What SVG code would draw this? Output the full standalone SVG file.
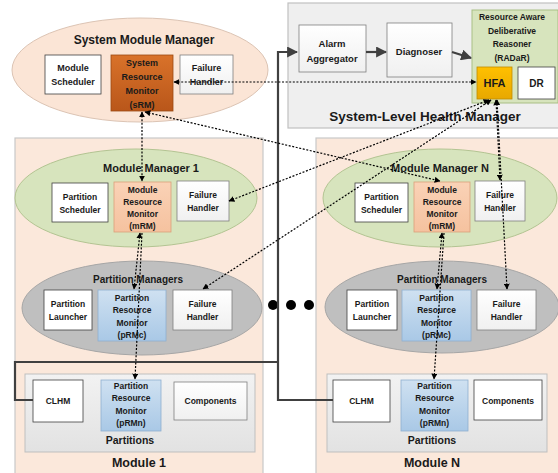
<svg xmlns="http://www.w3.org/2000/svg" width="558" height="473" viewBox="0 0 558 473">
<defs>
<linearGradient id="gW" x1="0" y1="0" x2="0" y2="1"><stop offset="0" stop-color="#ffffff"/><stop offset="1" stop-color="#f0f0f0"/></linearGradient>
<linearGradient id="gS" x1="0" y1="0" x2="0" y2="1"><stop offset="0" stop-color="#d9722a"/><stop offset="1" stop-color="#b9561a"/></linearGradient>
<linearGradient id="gM" x1="0" y1="0" x2="0" y2="1"><stop offset="0" stop-color="#fad2b6"/><stop offset="1" stop-color="#f5c29f"/></linearGradient>
<linearGradient id="gP" x1="0" y1="0" x2="0" y2="1"><stop offset="0" stop-color="#cfe1f1"/><stop offset="1" stop-color="#a9c8e6"/></linearGradient>
<linearGradient id="gH" x1="0" y1="0" x2="0" y2="1"><stop offset="0" stop-color="#ffc000"/><stop offset="1" stop-color="#e8a800"/></linearGradient>
<linearGradient id="gG" x1="0" y1="0" x2="0" y2="1"><stop offset="0" stop-color="#f2f2f2"/><stop offset="1" stop-color="#e2e2e2"/></linearGradient>
<marker id="ad" viewBox="0 0 10 10" refX="9" refY="5" markerWidth="6" markerHeight="6" markerUnits="userSpaceOnUse" orient="auto-start-reverse"><path d="M0,0 L10,5 L0,10 z" fill="#000"/></marker>
<marker id="as" viewBox="0 0 10 10" refX="9" refY="5" markerWidth="11" markerHeight="11" markerUnits="userSpaceOnUse" orient="auto"><path d="M0,0 L10,5 L0,10 z" fill="#404040"/></marker>
</defs>
<style>
text{font-family:"Liberation Sans",Arial,sans-serif;font-weight:bold;fill:#1a1a1a;text-anchor:middle}
.b{font-size:9px}
.s{font-size:8.5px}
.r{font-size:8.5px}
.t{font-size:12px}
.tm{font-size:11px}
.tp{font-size:10px}
.wb{fill:url(#gW);stroke:#7f7f7f;stroke-width:0.8}
.wb2{fill:#ffffff;stroke:#404040;stroke-width:0.8}
.mod{fill:#fbe8db;stroke:#c8c8c8;stroke-width:1.2}
.dot{fill:none;stroke:#000;stroke-width:1.2;stroke-dasharray:2 1.6;marker-start:url(#ad);marker-end:url(#ad)}
.thick{fill:none;stroke:#404040;stroke-width:2.2}
</style>

<g id="module1">
<rect class="mod" x="15" y="138" width="248" height="340"/>
<text x="139" y="467" class="t" style="font-size:12.5px">Module 1</text>
</g>
<g id="moduleN">
<rect class="mod" x="316" y="138" width="246" height="340"/>
<text x="432" y="467" class="t" style="font-size:12.5px">Module N</text>
</g>

<g id="slhm">
<rect x="288" y="3" width="272" height="125" fill="#efefef" stroke="#c0c0c0" stroke-width="1.2"/>
<text x="425" y="121" style="font-size:13.5px">System-Level Health Manager</text>
</g>
<g id="alarm">
<rect class="wb" x="299" y="25" width="67" height="47"/>
<text class="b" x="332" y="47" style="font-size:9.5px">Alarm</text>
<text class="b" x="332" y="62" style="font-size:9.5px">Aggregator</text>
</g>
<g id="diagnoser">
<rect class="wb" x="387" y="23" width="65" height="54"/>
<text class="b" x="419" y="55" style="font-size:9.5px">Diagnoser</text>
</g>
<g id="radar">
<rect x="472" y="10" width="86" height="93" fill="#d7e4bd" stroke="#a9bf85" stroke-width="1"/>
<text class="r" x="512" y="20">Resource Aware</text>
<text class="r" x="512" y="34">Deliberative</text>
<text class="r" x="512" y="47">Reasoner</text>
<text class="r" x="512" y="61">(RADaR)</text>
</g>
<g id="hfa">
<rect x="477" y="67" width="35" height="32" fill="url(#gH)" stroke="#c08c00" stroke-width="0.8"/>
<text x="494.5" y="87" style="font-size:11px">HFA</text>
</g>
<g id="dr">
<rect class="wb2" x="518" y="67" width="37" height="32"/>
<text x="536.5" y="87" style="font-size:10px">DR</text>
</g>

<g id="smm">
<ellipse cx="140" cy="70" rx="128" ry="52" fill="#fbe5d6" stroke="#dcc4b4" stroke-width="1"/>
<text x="144" y="44" class="t">System Module Manager</text>
</g>
<g id="modsched">
<rect class="wb2" x="45" y="55" width="56" height="39"/>
<text class="b" x="73" y="71">Module</text>
<text class="b" x="73" y="85">Scheduler</text>
</g>
<g id="srm">
<rect x="111" y="55" width="62" height="56" fill="url(#gS)" stroke="#9c4a12" stroke-width="0.8"/>
<text class="b" x="142" y="66">System</text>
<text class="b" x="142" y="80">Resource</text>
<text class="b" x="142" y="94">Monitor</text>
<text class="b" x="142" y="108">(sRM)</text>
</g>
<g id="sfh">
<rect class="wb" x="180" y="55" width="53" height="39"/>
<text class="b" x="206.5" y="71">Failure</text>
<text class="b" x="206.5" y="85">Handler</text>
</g>

<g id="mm1">
<ellipse cx="136" cy="198" rx="121" ry="49" fill="#d7e4bd" stroke="#b3c492" stroke-width="1"/>
<text x="151" y="172" class="tm">Module Manager 1</text>
</g>
<g id="psched1">
<rect class="wb2" x="52" y="183" width="56" height="39"/>
<text class="s" x="80" y="200">Partition</text>
<text class="s" x="80" y="213">Scheduler</text>
</g>
<g id="mrm1">
<rect x="114" y="182" width="57" height="50" fill="url(#gM)" stroke="#d9a07a" stroke-width="0.8"/>
<text class="s" x="142.5" y="193">Module</text>
<text class="s" x="142.5" y="205">Resource</text>
<text class="s" x="142.5" y="217">Monitor</text>
<text class="s" x="142.5" y="229">(mRM)</text>
</g>
<g id="mfh1">
<rect class="wb" x="177" y="181" width="52" height="40"/>
<text class="s" x="203" y="198">Failure</text>
<text class="s" x="203" y="211">Handler</text>
</g>

<g id="mmN">
<ellipse cx="440" cy="198" rx="117" ry="49" fill="#d7e4bd" stroke="#b3c492" stroke-width="1"/>
<text x="440" y="172" class="tm">Module Manager N</text>
</g>
<g id="pschedN">
<rect class="wb2" x="355" y="183" width="53" height="39"/>
<text class="s" x="381.5" y="200">Partition</text>
<text class="s" x="381.5" y="213">Scheduler</text>
</g>
<g id="mrmN">
<rect x="414" y="182" width="56" height="50" fill="url(#gM)" stroke="#d9a07a" stroke-width="0.8"/>
<text class="s" x="442" y="193">Module</text>
<text class="s" x="442" y="205">Resource</text>
<text class="s" x="442" y="217">Monitor</text>
<text class="s" x="442" y="229">(mRM)</text>
</g>
<g id="mfhN">
<rect class="wb" x="475" y="181" width="50" height="40"/>
<text class="s" x="500" y="198">Failure</text>
<text class="s" x="500" y="211">Handler</text>
</g>

<g id="pm1">
<ellipse cx="142" cy="308" rx="120" ry="47" fill="#bfbfbf" stroke="#a6a6a6" stroke-width="1"/>
<text x="138" y="283" class="tp">Partition Managers</text>
</g>
<g id="plaunch1">
<rect class="wb2" x="44" y="290" width="48" height="40"/>
<text class="s" x="68" y="307">Partition</text>
<text class="s" x="68" y="320">Launcher</text>
</g>
<g id="prmc1">
<rect x="98" y="290" width="68" height="51" fill="url(#gP)" stroke="#8fb0d0" stroke-width="0.8"/>
<text class="s" x="132" y="301">Partition</text>
<text class="s" x="132" y="313">Resource</text>
<text class="s" x="132" y="326">Monitor</text>
<text class="s" x="132" y="338">(pRMc)</text>
</g>
<g id="pfh1">
<rect class="wb" x="173" y="290" width="59" height="40"/>
<text class="s" x="202.5" y="307">Failure</text>
<text class="s" x="202.5" y="320">Handler</text>
</g>

<g id="pmN">
<ellipse cx="442" cy="307" rx="117" ry="46" fill="#bfbfbf" stroke="#a6a6a6" stroke-width="1"/>
<text x="442" y="283" class="tp">Partition Managers</text>
</g>
<g id="plaunchN">
<rect class="wb2" x="347" y="290" width="50" height="40"/>
<text class="s" x="372" y="307">Partition</text>
<text class="s" x="372" y="320">Launcher</text>
</g>
<g id="prmcN">
<rect x="402" y="290" width="69" height="51" fill="url(#gP)" stroke="#8fb0d0" stroke-width="0.8"/>
<text class="s" x="436.5" y="301">Partition</text>
<text class="s" x="436.5" y="313">Resource</text>
<text class="s" x="436.5" y="326">Monitor</text>
<text class="s" x="436.5" y="338">(pRMc)</text>
</g>
<g id="pfhN">
<rect class="wb" x="477" y="290" width="59" height="40"/>
<text class="s" x="506.5" y="307">Failure</text>
<text class="s" x="506.5" y="320">Handler</text>
</g>

<g id="dots">
<circle cx="273" cy="305" r="5" fill="#000"/>
<circle cx="291" cy="305" r="5" fill="#000"/>
<circle cx="309" cy="305" r="5" fill="#000"/>
</g>

<g id="parts1">
<rect x="25" y="374" width="230" height="78" fill="url(#gG)" stroke="#bfbfbf" stroke-width="1"/>
<text x="130" y="444" style="font-size:10.5px">Partitions</text>
</g>
<g id="clhm1">
<rect class="wb2" x="33" y="380" width="50" height="42"/>
<text class="s" x="58" y="404">CLHM</text>
</g>
<g id="prmn1">
<rect x="101" y="380" width="60" height="51" fill="url(#gP)" stroke="#8fb0d0" stroke-width="0.8"/>
<text class="s" x="131" y="389">Partition</text>
<text class="s" x="131" y="401">Resource</text>
<text class="s" x="131" y="414">Monitor</text>
<text class="s" x="131" y="426">(pRMn)</text>
</g>
<g id="comp1">
<rect class="wb" x="174" y="382" width="73" height="38"/>
<text class="s" x="210.5" y="404">Components</text>
</g>

<g id="partsN">
<rect x="327" y="374" width="220" height="78" fill="url(#gG)" stroke="#bfbfbf" stroke-width="1"/>
<text x="432" y="444" style="font-size:10.5px">Partitions</text>
</g>
<g id="clhmN">
<rect class="wb2" x="333" y="380" width="57" height="42"/>
<text class="s" x="361.5" y="404">CLHM</text>
</g>
<g id="prmnN">
<rect x="401" y="380" width="67" height="51" fill="url(#gP)" stroke="#8fb0d0" stroke-width="0.8"/>
<text class="s" x="434.5" y="389">Partition</text>
<text class="s" x="434.5" y="401">Resource</text>
<text class="s" x="434.5" y="414">Monitor</text>
<text class="s" x="434.5" y="426">(pRMn)</text>
</g>
<g id="compN">
<rect class="wb2" x="474" y="380" width="68" height="40"/>
<text class="s" x="508" y="404">Components</text>
</g>

<g id="connectors">
<path class="thick" d="M333,400 H278 V52 H297" marker-end="url(#as)"/>
<path class="thick" d="M278,362 H15 V400 H33"/>
<path class="thick" d="M366,52 H386" marker-end="url(#as)"/>
<path class="thick" d="M452,52 L471,58" marker-end="url(#as)"/>
<path class="dot" d="M142,112 L142,181"/>
<path class="dot" d="M145,112 L440,181"/>
<path class="dot" d="M174,82 L476,82"/>
<path class="dot" d="M489,100 L229,201"/>
<path class="dot" d="M491,100 L203,289"/>
<path class="dot" d="M496,100 L500,180"/>
<path class="dot" d="M497,100 L507,289"/>
<path class="dot" d="M140,233 L134,289"/>
<path class="dot" d="M142,233 L135,379" style="marker-start:none"/>
<path class="dot" d="M442,233 L437,289"/>
<path class="dot" d="M444,233 L434,379" style="marker-start:none"/>
</g>
</svg>
